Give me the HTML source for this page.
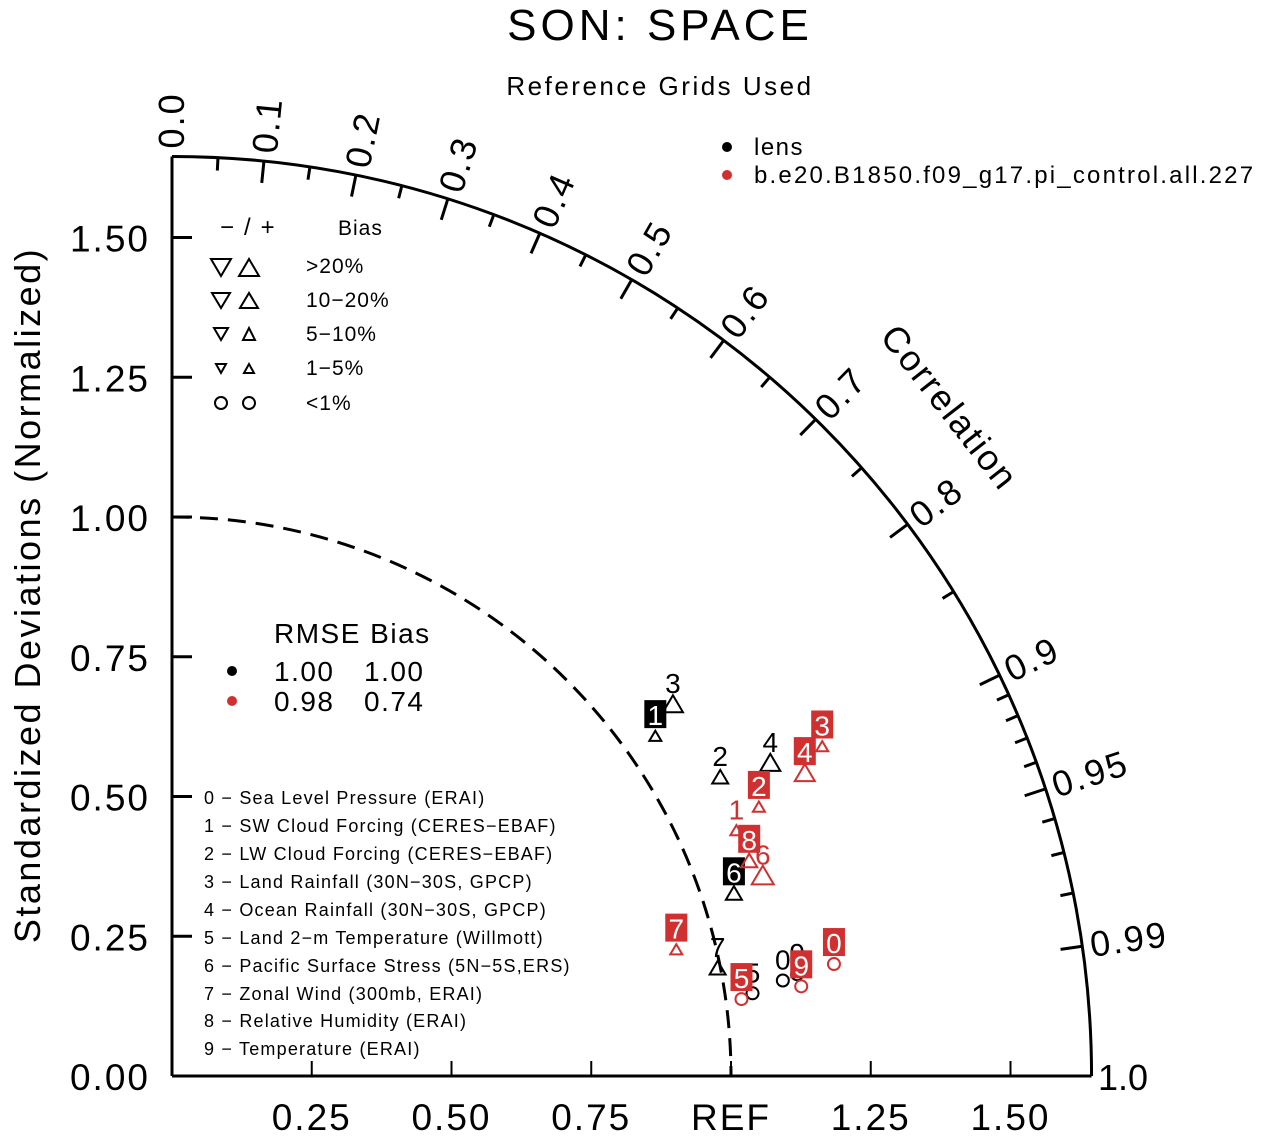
<!DOCTYPE html>
<html><head><meta charset="utf-8"><style>
body{margin:0;background:#fff}
svg text{font-family:"Liberation Sans",sans-serif}
</style></head><body>
<svg id="chart" width="1262" height="1135" viewBox="0 0 1262 1135" xmlns="http://www.w3.org/2000/svg">
<text x="660" y="40" font-size="44" text-anchor="middle" letter-spacing="4">SON: SPACE</text>
<text x="660" y="95" font-size="26" text-anchor="middle" letter-spacing="2.5">Reference Grids Used</text>
<g id="axes"></g>
<g id="marks"></g>
<g>
<circle cx="727" cy="147" r="5" fill="#000"/>
<text x="754" y="155" font-size="24" letter-spacing="1.5">lens</text>
<circle cx="727" cy="175" r="5" fill="#d03030"/>
<text x="754" y="183" font-size="24" letter-spacing="2.2">b.e20.B1850.f09_g17.pi_control.all.227</text>
</g>
<g font-size="21" fill="none" stroke="#000" stroke-width="2">
<text x="220" y="235" stroke="none" fill="#000" font-size="24" letter-spacing="10">−/+</text>
<text x="338" y="235" stroke="none" fill="#000" letter-spacing="1">Bias</text>
<polygon points="211,259 231,259 221,276"/><polygon points="239,276 259,276 249,259"/>
<text x="306" y="273" stroke="none" fill="#000" letter-spacing="1">&gt;20%</text>
<polygon points="212,293 230,293 221,308"/><polygon points="240,308 258,308 249,293"/>
<text x="306" y="307" stroke="none" fill="#000" letter-spacing="1">10−20%</text>
<polygon points="214,328 228,328 221,340"/><polygon points="243,340 255,340 249,328"/>
<text x="306" y="341" stroke="none" fill="#000" letter-spacing="1">5−10%</text>
<polygon points="216,364 226,364 221,373"/><polygon points="244,373 254,373 249,364"/>
<text x="306" y="375" stroke="none" fill="#000" letter-spacing="1">1−5%</text>
<circle cx="221" cy="403" r="6"/><circle cx="249" cy="403" r="6"/>
<text x="306" y="410" stroke="none" fill="#000" letter-spacing="1">&lt;1%</text>
</g>
<g font-size="28" letter-spacing="1.5">
<text x="274" y="643">RMSE Bias</text>
<circle cx="232" cy="671" r="5" fill="#000"/>
<text x="274" y="681">1.00</text><text x="364" y="681">1.00</text>
<circle cx="232" cy="701" r="5" fill="#d03030"/>
<text x="274" y="711">0.98</text><text x="364" y="711">0.74</text>
</g>
<g font-size="18" letter-spacing="1.2">
<text x="204" y="804">0 − Sea Level Pressure (ERAI)</text>
<text x="204" y="832">1 − SW Cloud Forcing (CERES−EBAF)</text>
<text x="204" y="860">2 − LW Cloud Forcing (CERES−EBAF)</text>
<text x="204" y="888">3 − Land Rainfall (30N−30S, GPCP)</text>
<text x="204" y="916">4 − Ocean Rainfall (30N−30S, GPCP)</text>
<text x="204" y="944">5 − Land 2−m Temperature (Willmott)</text>
<text x="204" y="972">6 − Pacific Surface Stress (5N−5S,ERS)</text>
<text x="204" y="1000">7 − Zonal Wind (300mb, ERAI)</text>
<text x="204" y="1027">8 − Relative Humidity (ERAI)</text>
<text x="204" y="1055">9 − Temperature (ERAI)</text>
</g>
</svg>
<script>
// data
const sdTicks=[0.25,0.5,0.75,1.0,1.25,1.5];
const sdTickLabels=["0.25","0.50","0.75","REF","1.25","1.50"];
const ySdTicks=[0,0.25,0.5,0.75,1.0,1.25,1.5];
const ySdTickLabels=["0.00","0.25","0.50","0.75","1.00","1.25","1.50"];
const corrMajor=[0,0.1,0.2,0.3,0.4,0.5,0.6,0.7,0.8,0.9,0.95,0.99];
const corrLabels=["0.0","0.1","0.2","0.3","0.4","0.5","0.6","0.7","0.8","0.9","0.95","0.99"];
const corrMinor=[0.05,0.15,0.25,0.35,0.45,0.55,0.65,0.75,0.85,0.91,0.92,0.93,0.94,0.96,0.97,0.98];
const varIds=[0,1,2,3,4,5,6,7,9];
const lensSd=[1.106,1.057,1.117,1.116,1.208,1.049,1.057,0.995,1.133];
const lensCorr=[0.988,0.818,0.878,0.803,0.886,0.990,0.951,0.981,0.987];
const lensBias=[0,2,8,15,15,0,8,8,0];
const lensBoxed=[false,true,false,false,false,false,true,false,false];
const caseIds=[0,1,2,3,4,5,6,7,8,9];
const caseSd=[1.201,1.101,1.155,1.304,1.255,1.028,1.116,0.930,1.102,1.137];
const caseCorr=[0.986,0.917,0.909,0.892,0.902,0.991,0.947,0.970,0.937,0.990];
const caseBias=[0,2,2,2,15,0,25,2,8,0];
const caseBoxed=[true,false,true,true,true,true,false,true,true,true];

const NS="http://www.w3.org/2000/svg";
const ox=172, oy=1076, S=559, R=1.645;
const px=v=>ox+v*S, py=v=>oy-v*S;
const pt=(sd,c)=>[ox+sd*c*S, oy-sd*Math.sqrt(1-c*c)*S];
function mk(tag,at,parent){const e=document.createElementNS(NS,tag);for(const k in at)e.setAttribute(k,at[k]);parent.appendChild(e);return e;}
const axes=document.getElementById('axes'), marks=document.getElementById('marks');

let e;
e=mk('line',{x1:ox,y1:oy,x2:px(R),y2:oy,stroke:'#000','stroke-width':3},axes);


e=mk('line',{x1:ox,y1:oy,x2:ox,y2:py(R),stroke:'#000','stroke-width':3},axes);


e=mk('path',{d:`M${ox},${py(R)} A${R*S},${R*S} 0 0 1 ${px(R)},${oy}`,fill:'none',stroke:'#000','stroke-width':3},axes);


e=mk('path',{d:`M${ox},${py(1)} A${S},${S} 0 0 1 ${px(1)},${oy}`,fill:'none',stroke:'#000','stroke-width':3,'stroke-dasharray':'18,10'},axes);



sdTicks.forEach((v,i)=>{
  mk('line',{x1:px(v),y1:oy,x2:px(v),y2:oy-15,stroke:'#000','stroke-width':2},axes);
  e=mk('text',{x:px(v),y:1130,'font-size':37,'text-anchor':'middle','letter-spacing':2},axes);
  e.textContent=sdTickLabels[i];
  
  
});
ySdTicks.forEach((v,i)=>{
  mk('line',{x1:ox,y1:py(v),x2:ox+20,y2:py(v),stroke:'#000','stroke-width':3},axes);
  e=mk('text',{x:150,y:py(v)+14,'font-size':37,'text-anchor':'end','letter-spacing':2},axes);
  e.textContent=ySdTickLabels[i];
  
  
});
e=mk('text',{x:0,y:0,'font-size':36,'text-anchor':'middle','letter-spacing':2.5,transform:`translate(40,595) rotate(-90)`},axes);
e.textContent='Standardized Deviations (Normalized)';


e=mk('text',{x:0,y:0,'font-size':36,'text-anchor':'middle','letter-spacing':2,transform:`translate(940,415) rotate(52)`},axes);
e.textContent='Correlation';



function ctick(c,len,w){const a=Math.acos(c);const r1=R*S,r2=R*S-len;
  mk('line',{x1:ox+r1*Math.cos(a),y1:oy-r1*Math.sin(a),x2:ox+r2*Math.cos(a),y2:oy-r2*Math.sin(a),stroke:'#000','stroke-width':w},axes);}
corrMajor.forEach((c,i)=>{
  if(c>0)ctick(c,22,3);
  const a=Math.acos(c), r=R*S+8;
  const x=ox+r*Math.cos(a), y=oy-r*Math.sin(a), deg=-a*180/Math.PI;
  e=mk('text',{x:0,y:12,'font-size':36,transform:`translate(${x},${y}) rotate(${deg})`,'letter-spacing':2},axes);
  e.textContent=corrLabels[i];
  
  
});
corrMinor.forEach(c=>ctick(c,13,3));
e=mk('text',{x:1098,y:1090,'font-size':36},axes);
e.textContent='1.0';



function sizeOf(b){return b>=20?11:b>=10?10:b>=5?8:b>=1?6:0;}
function plot(ids,sds,cs,bias,boxed,color,series){
  ids.forEach((id,i)=>{
    const [x,y]=pt(sds[i],cs[i]);const s=sizeOf(bias[i]);
    let m;
    if(s===0) m=mk('circle',{cx:x,cy:y,r:6,fill:'none',stroke:color,'stroke-width':2},marks);
    else m=mk('polygon',{points:`${x-s},${y+s*0.8} ${x+s},${y+s*0.8} ${x},${y-s*0.9}`,fill:'none',stroke:color,'stroke-width':2},marks);
    
    
    const ly=y-22;
    if(boxed[i]){
      const b=mk('rect',{x:x-11,y:ly-14,width:22,height:28,fill:color},marks);
      
      
    }
    const t=mk('text',{x:x,y:ly+11,'font-size':28,'text-anchor':'middle',fill:boxed[i]?'#fff':color},marks);
    t.textContent=id;
    
    
  });
}
plot(varIds,lensSd,lensCorr,lensBias,lensBoxed,'#000','lens');
plot(caseIds,caseSd,caseCorr,caseBias,caseBoxed,'#d03030','case');
</script>
</body></html>
